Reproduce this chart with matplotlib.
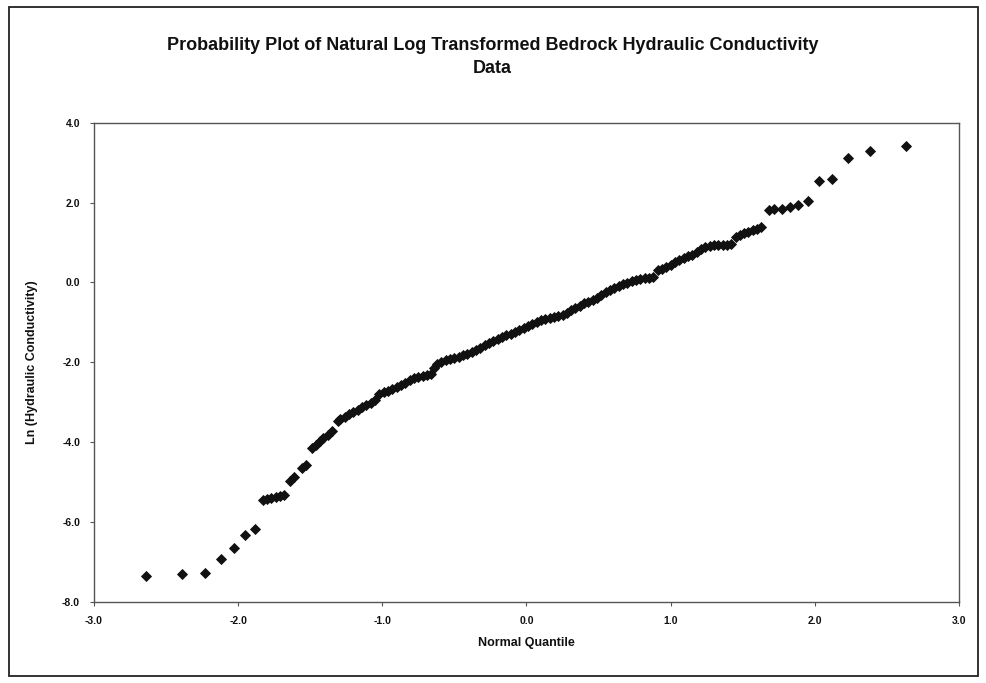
import matplotlib
matplotlib.use('Agg')
import matplotlib.pyplot as plt
from matplotlib.patches import Rectangle

plt.rcParams['font.family'] = ['Liberation Sans', 'DejaVu Sans']

# normal quantile (x) vs ln hydraulic conductivity (y)
quantile = [
    -2.64, -2.39, -2.23, -2.12, -2.03, -1.95, -1.88,
    -1.83, -1.80, -1.77, -1.74, -1.71, -1.68,
    -1.64, -1.61, -1.56, -1.53,
    -1.49, -1.46, -1.43, -1.41, -1.38, -1.35,
    -1.31, -1.29, -1.26, -1.23, -1.20, -1.17, -1.14, -1.11, -1.08, -1.05,
    -1.02, -0.99, -0.96, -0.93, -0.90, -0.87, -0.84, -0.81, -0.78, -0.75,
    -0.72, -0.69, -0.66, -0.64, -0.62, -0.59, -0.56, -0.53, -0.50, -0.47,
    -0.44, -0.41, -0.38, -0.35, -0.32, -0.29, -0.26, -0.23, -0.20, -0.17,
    -0.14, -0.11, -0.08, -0.05, -0.02, 0.01, 0.04, 0.07, 0.10, 0.13,
    0.16, 0.19, 0.22, 0.25, 0.28, 0.31, 0.34, 0.37, 0.40, 0.43,
    0.46, 0.49, 0.52, 0.55, 0.58, 0.61, 0.64, 0.67, 0.70, 0.73,
    0.76, 0.79, 0.82, 0.85, 0.88, 0.91, 0.94, 0.97, 1.00, 1.03,
    1.06, 1.09, 1.12, 1.15, 1.18, 1.21, 1.24, 1.27, 1.30, 1.33,
    1.36, 1.39, 1.42, 1.45, 1.48, 1.51, 1.54, 1.57, 1.60, 1.63,
    1.68, 1.72, 1.77, 1.83, 1.88, 1.95, 2.03, 2.12, 2.23, 2.38, 2.63,
]
ln_k = [
    -7.36, -7.31, -7.28, -6.92, -6.65, -6.33, -6.18,
    -5.44, -5.42, -5.40, -5.37, -5.34, -5.31,
    -4.97, -4.87, -4.64, -4.57,
    -4.15, -4.08, -3.96, -3.90, -3.83, -3.73,
    -3.48, -3.42, -3.36, -3.29, -3.24, -3.19, -3.13, -3.07, -3.02, -2.94,
    -2.80, -2.75, -2.71, -2.66, -2.61, -2.56, -2.51, -2.45, -2.40, -2.36,
    -2.33, -2.31, -2.28, -2.14, -2.05, -2.00, -1.95, -1.92, -1.89, -1.86,
    -1.82, -1.79, -1.75, -1.70, -1.64, -1.57, -1.51, -1.46, -1.42, -1.37,
    -1.32, -1.28, -1.24, -1.19, -1.13, -1.08, -1.03, -0.99, -0.95, -0.91,
    -0.88, -0.86, -0.84, -0.81, -0.76, -0.70, -0.65, -0.58, -0.52, -0.48,
    -0.44, -0.38, -0.32, -0.25, -0.19, -0.14, -0.10, -0.05, -0.01, 0.03,
    0.06, 0.08, 0.10, 0.12, 0.14, 0.30, 0.34, 0.39, 0.44, 0.51,
    0.57, 0.62, 0.65, 0.68, 0.76, 0.83, 0.88, 0.92, 0.93, 0.93,
    0.93, 0.93, 0.96, 1.15, 1.20, 1.23, 1.27, 1.31, 1.35, 1.39,
    1.81, 1.83, 1.85, 1.88, 1.94, 2.04, 2.54, 2.58, 3.12, 3.29, 3.42,
]

x_ticks = [-3.0, -2.0, -1.0, 0.0, 1.0, 2.0, 3.0]
y_ticks = [-8.0, -6.0, -4.0, -2.0, 0.0, 2.0, 4.0]

TEXT = '#111111'
AXIS = '#555555'

fig = plt.figure(figsize=(9.87, 6.83), dpi=100)
fig.patch.set_facecolor('white')

# outer chart-area frame
fig.patches.append(Rectangle((0.009, 0.010), 0.982, 0.980, transform=fig.transFigure,
                             fill=False, edgecolor='#222222', lw=1.3))

ax = fig.add_axes([0.0952, 0.1186, 0.8764, 0.7018])
ax.plot(quantile, ln_k, ls='none', marker='D', ms=5.4, color='#111111',
        markeredgewidth=0.6, clip_on=False, zorder=3)

ax.set_xlim(-3, 3)
ax.set_ylim(-8, 4)
ax.set_xticks(x_ticks)
ax.set_yticks(y_ticks)
ax.set_xticklabels([f'{v:.1f}' for v in x_ticks])
ax.set_yticklabels([f'{v:.1f}' for v in y_ticks])
ax.tick_params(direction='out', length=3, width=0.8, color=AXIS,
               labelsize=7.5, labelcolor=TEXT, pad=7)
for lbl in ax.get_xticklabels() + ax.get_yticklabels():
    lbl.set_fontweight('bold')
for spine in ax.spines.values():
    spine.set_color(AXIS)
    spine.set_linewidth(1.0)

ax.set_xlabel('Normal Quantile', fontsize=9, fontweight='bold', color=TEXT, labelpad=8)
ax.set_ylabel('Ln (Hydraulic Conductivity)', fontsize=9, fontweight='bold', color=TEXT,
              labelpad=17)

fig.text(0.499, 0.933, 'Probability Plot of Natural Log Transformed Bedrock Hydraulic Conductivity',
         ha='center', va='center', fontsize=13, fontweight='bold', color=TEXT)
fig.text(0.499, 0.900, 'Data', ha='center', va='center', fontsize=13,
         fontweight='bold', color=TEXT)

fig.savefig('out.png', dpi=100, facecolor='white')
